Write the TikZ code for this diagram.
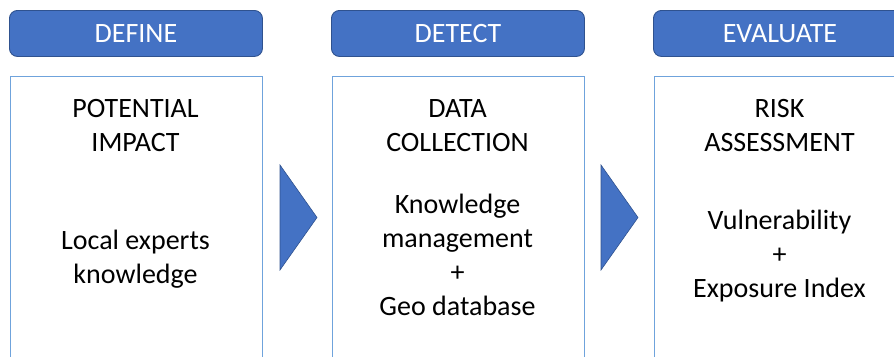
\documentclass[tikz,border=0pt]{standalone}
\usepackage{fontspec}
\setmainfont{Carlito}
\definecolor{hdrfill}{HTML}{4472C4}
\definecolor{hdrline}{HTML}{2F528F}
\definecolor{boxline}{HTML}{6FA3DC}
\begin{document}
\begin{tikzpicture}[x=1pt,y=-1pt,
  header/.style={draw=hdrline, fill=hdrfill, line width=0.9pt, rounded corners=8pt,
    minimum width=253pt, minimum height=46pt, inner sep=0pt, anchor=north west,
    text=white, font=\fontsize{28}{34}\selectfont},
  panel/.style={draw=boxline, line width=1.2pt, minimum width=252pt, minimum height=320pt,
    inner sep=0pt, anchor=north west},
  label/.style={align=center, font=\fontsize{28}{34}\selectfont, text=black, inner sep=0pt},
  tri/.style={draw=hdrline, fill=hdrfill, line width=0.6pt, line join=miter}]
\useasboundingbox (0,0) rectangle (894,356);
\clip (0,0) rectangle (894,356);
% headers
\node[header] (h1) at (9,10) {DEFINE};
\node[header] (h2) at (331,10) {DETECT};
\node[header] (h3) at (653,10) {EVALUATE};
% panels
\node[panel] (p1) at (9.5,76) {};
\node[panel] (p2) at (331.5,76) {};
\node[panel] (p3) at (653.5,76) {};
% titles
\node[label] (t1) at (135.5,126) {POTENTIAL\\IMPACT};
\node[label] (t2) at (457.5,126) {DATA\\COLLECTION};
\node[label] (t3) at (779.5,126) {RISK\\ASSESSMENT};
% contents
\node[label] (c1) at (135.5,259) {Local experts\\knowledge};
\node[label] (c2) at (457.5,254.5) {Knowledge\\management\\+\\Geo database};
\node[label] (c3) at (779.5,256) {Vulnerability\\+\\Exposure Index};
% arrows
\draw[tri] (280,165) -- (317,217.5) -- (280,270) -- cycle;
\draw[tri] (601,165) -- (638,217.5) -- (601,270) -- cycle;
\end{tikzpicture}
\end{document}
